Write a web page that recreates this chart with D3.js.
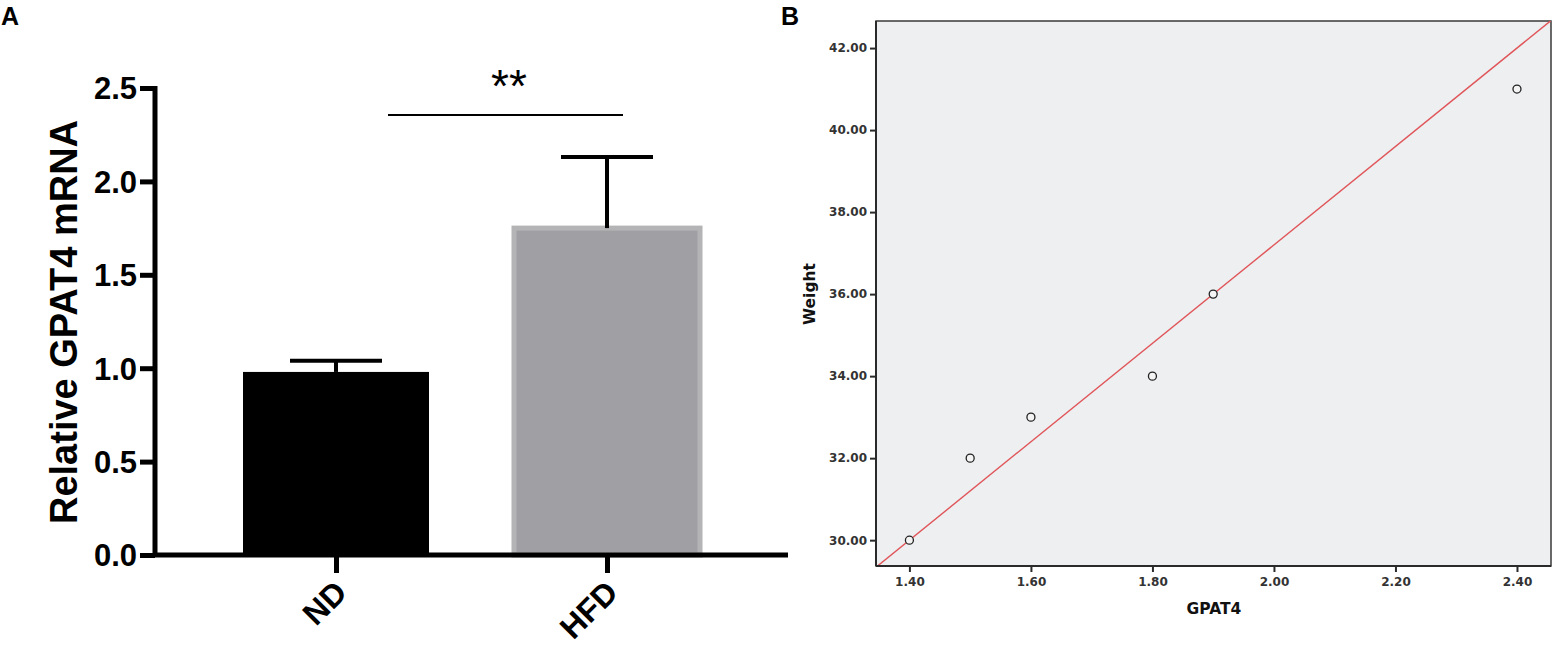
<!DOCTYPE html>
<html>
<head>
<meta charset="utf-8">
<script src="https://cdn.jsdelivr.net/npm/d3@7"></script>
<style>
  body { margin: 0; background: #fff; }
  svg { display: block; }
</style>
</head>
<body>
<svg id="chart" width="1563" height="647"></svg>
<script>
// panel A data
const groups = ["ND", "HFD"];
const means = [0.98, 1.75];
const sems = [0.06, 0.38];
const barColors = ["#000000", "#a09fa4"];
const yTicksA = [0, 0.5, 1.0, 1.5, 2.0, 2.5];

// panel B data
const gpat4 = [1.40, 1.50, 1.60, 1.80, 1.90, 2.40];
const weight = [30, 32, 33, 34, 36, 41];
const xTicksB = [1.4, 1.6, 1.8, 2.0, 2.2, 2.4];
const yTicksB = [30, 32, 34, 36, 38, 40, 42];
// fit line: weight = 12 * gpat4 + 13.2
const fitSlope = 12, fitIntercept = 13.2;

const svg = d3.select("#chart");

// ---------- Panel A ----------
const yA = d3.scaleLinear().domain([0, 2.5]).range([555, 88]);
const xA = d3.scalePoint().domain(groups).range([336, 607]);
const barW = 186;

svg.append("text").attr("x", 1).attr("y", 25)
  .attr("font-family", "Liberation Sans, Arial, sans-serif").attr("font-weight", "bold")
  .attr("font-size", 25).text("A");

const gA = svg.append("g");

// bars
gA.selectAll("rect.bar").data(groups).join("rect")
  .attr("class", "bar")
  .attr("x", d => xA(d) - barW / 2)
  .attr("width", barW)
  .attr("y", (d, i) => yA(means[i]))
  .attr("height", (d, i) => yA(0) - yA(means[i]))
  .attr("fill", (d, i) => barColors[i])
  .attr("stroke", (d, i) => i === 0 ? "#000" : "#b4b4b6")
  .attr("stroke-width", (d, i) => i === 0 ? 0 : 5);

// error bars (upper only)
groups.forEach((g, i) => {
  const cx = xA(g);
  gA.append("line")
    .attr("x1", cx).attr("x2", cx)
    .attr("y1", yA(means[i])).attr("y2", yA(means[i] + sems[i]))
    .attr("stroke", "#000").attr("stroke-width", 4);
  gA.append("line")
    .attr("x1", cx - 46).attr("x2", cx + 46)
    .attr("y1", yA(means[i] + sems[i])).attr("y2", yA(means[i] + sems[i]))
    .attr("stroke", "#000").attr("stroke-width", 4);
});

// y axis
const axA = gA.append("g").attr("transform", "translate(155,0)")
  .call(d3.axisLeft(yA).tickValues(yTicksA).tickFormat(d3.format(".1f")).tickSize(15).tickPadding(3));
axA.select(".domain").attr("stroke-width", 5).attr("d", "M0," + (yA(2.5) - 2) + "V" + (yA(0) + 2));
axA.selectAll(".tick line").attr("stroke-width", 5);
axA.selectAll(".tick text")
  .attr("font-family", "Liberation Sans, Arial, sans-serif").attr("font-weight", "bold")
  .attr("font-size", 31).attr("fill", "#000").attr("dy", "0.35em");

// x axis
const axAx = gA.append("g").attr("transform", "translate(0,555)")
  .call(d3.axisBottom(xA).tickSize(18).tickPadding(8));
axAx.select(".domain").attr("stroke-width", 5).attr("d", "M153,0H788");
axAx.selectAll(".tick line").attr("stroke-width", 5);
axAx.selectAll(".tick text")
  .attr("font-family", "Liberation Sans, Arial, sans-serif").attr("font-weight", "bold")
  .attr("font-size", 32).attr("fill", "#000")
  .attr("text-anchor", "end")
  .attr("transform", "translate(-14,13) rotate(-45)")
  .attr("dy", "0.35em");

// y title
gA.append("text")
  .attr("transform", "translate(64,322) rotate(-90)")
  .attr("text-anchor", "middle")
  .attr("dy", "0.35em")
  .attr("font-family", "Liberation Sans, Arial, sans-serif").attr("font-weight", "bold")
  .attr("font-size", 38).text("Relative GPAT4 mRNA");

// significance
gA.append("line").attr("x1", 388).attr("x2", 623).attr("y1", 115).attr("y2", 115)
  .attr("stroke", "#000").attr("stroke-width", 2);
gA.append("text").attr("x", 509).attr("y", 102).attr("text-anchor", "middle")
  .attr("font-family", "Liberation Sans, Arial, sans-serif")
  .attr("font-size", 46).text("**");

// ---------- Panel B ----------
const bLeft = 876, bRight = 1551, bTop = 21, bBottom = 566;
const xB = d3.scaleLinear().domain([1.345, 2.456]).range([bLeft, bRight]);
const yB = d3.scaleLinear().domain([29.37, 42.66]).range([bBottom, bTop]);

svg.append("text").attr("x", 781).attr("y", 25)
  .attr("font-family", "Liberation Sans, Arial, sans-serif").attr("font-weight", "bold")
  .attr("font-size", 25).text("B");

const gB = svg.append("g");
gB.append("rect").attr("x", bLeft).attr("y", bTop)
  .attr("width", bRight - bLeft).attr("height", bBottom - bTop)
  .attr("fill", "#eeeff0").attr("stroke", "#3a3a3a").attr("stroke-width", 1.5);

svg.append("clipPath").attr("id", "clipB").append("rect")
  .attr("x", bLeft).attr("y", bTop).attr("width", bRight - bLeft).attr("height", bBottom - bTop);

const fitLine = d3.line().x(d => xB(d)).y(d => yB(fitSlope * d + fitIntercept));
gB.append("path").datum(xB.domain())
  .attr("clip-path", "url(#clipB)")
  .attr("d", fitLine).attr("fill", "none")
  .attr("stroke", "#e0555a").attr("stroke-width", 1.4);

gB.selectAll("circle").data(gpat4).join("circle")
  .attr("cx", d => xB(d))
  .attr("cy", (d, i) => yB(weight[i]))
  .attr("r", 4)
  .attr("fill", "#f4f4f4").attr("stroke", "#222").attr("stroke-width", 1.3);

const fmt2 = d3.format(".2f");
const axBy = gB.append("g").attr("transform", "translate(" + bLeft + ",0)")
  .call(d3.axisLeft(yB).tickValues(yTicksB).tickFormat(fmt2).tickSize(6).tickPadding(3));
axBy.select(".domain").attr("stroke", "#2a2a2a").attr("stroke-width", 2).attr("d", "M0," + bTop + "V" + bBottom);
axBy.selectAll(".tick line").attr("stroke", "#2a2a2a").attr("stroke-width", 2);
axBy.selectAll(".tick text")
  .attr("font-family", "DejaVu Sans, sans-serif").attr("font-weight", "bold")
  .attr("font-size", 12).attr("fill", "#333");

const axBx = gB.append("g").attr("transform", "translate(0," + bBottom + ")")
  .call(d3.axisBottom(xB).tickValues(xTicksB).tickFormat(fmt2).tickSize(6).tickPadding(5));
axBx.select(".domain").attr("stroke", "#2a2a2a").attr("stroke-width", 2).attr("d", "M" + bLeft + ",0H" + bRight);
axBx.selectAll(".tick line").attr("stroke", "#2a2a2a").attr("stroke-width", 2);
axBx.selectAll(".tick text")
  .attr("font-family", "DejaVu Sans, sans-serif").attr("font-weight", "bold")
  .attr("font-size", 12).attr("fill", "#333");

gB.append("text")
  .attr("transform", "translate(810,294) rotate(-90)")
  .attr("text-anchor", "middle").attr("dy", "0.35em")
  .attr("font-family", "DejaVu Sans, sans-serif").attr("font-weight", "bold")
  .attr("font-size", 15.5).attr("fill", "#111").text("Weight");

gB.append("text")
  .attr("x", 1214).attr("y", 614).attr("text-anchor", "middle")
  .attr("font-family", "DejaVu Sans, sans-serif").attr("font-weight", "bold")
  .attr("font-size", 15.5).attr("fill", "#111").text("GPAT4");
</script>
</body>
</html>
